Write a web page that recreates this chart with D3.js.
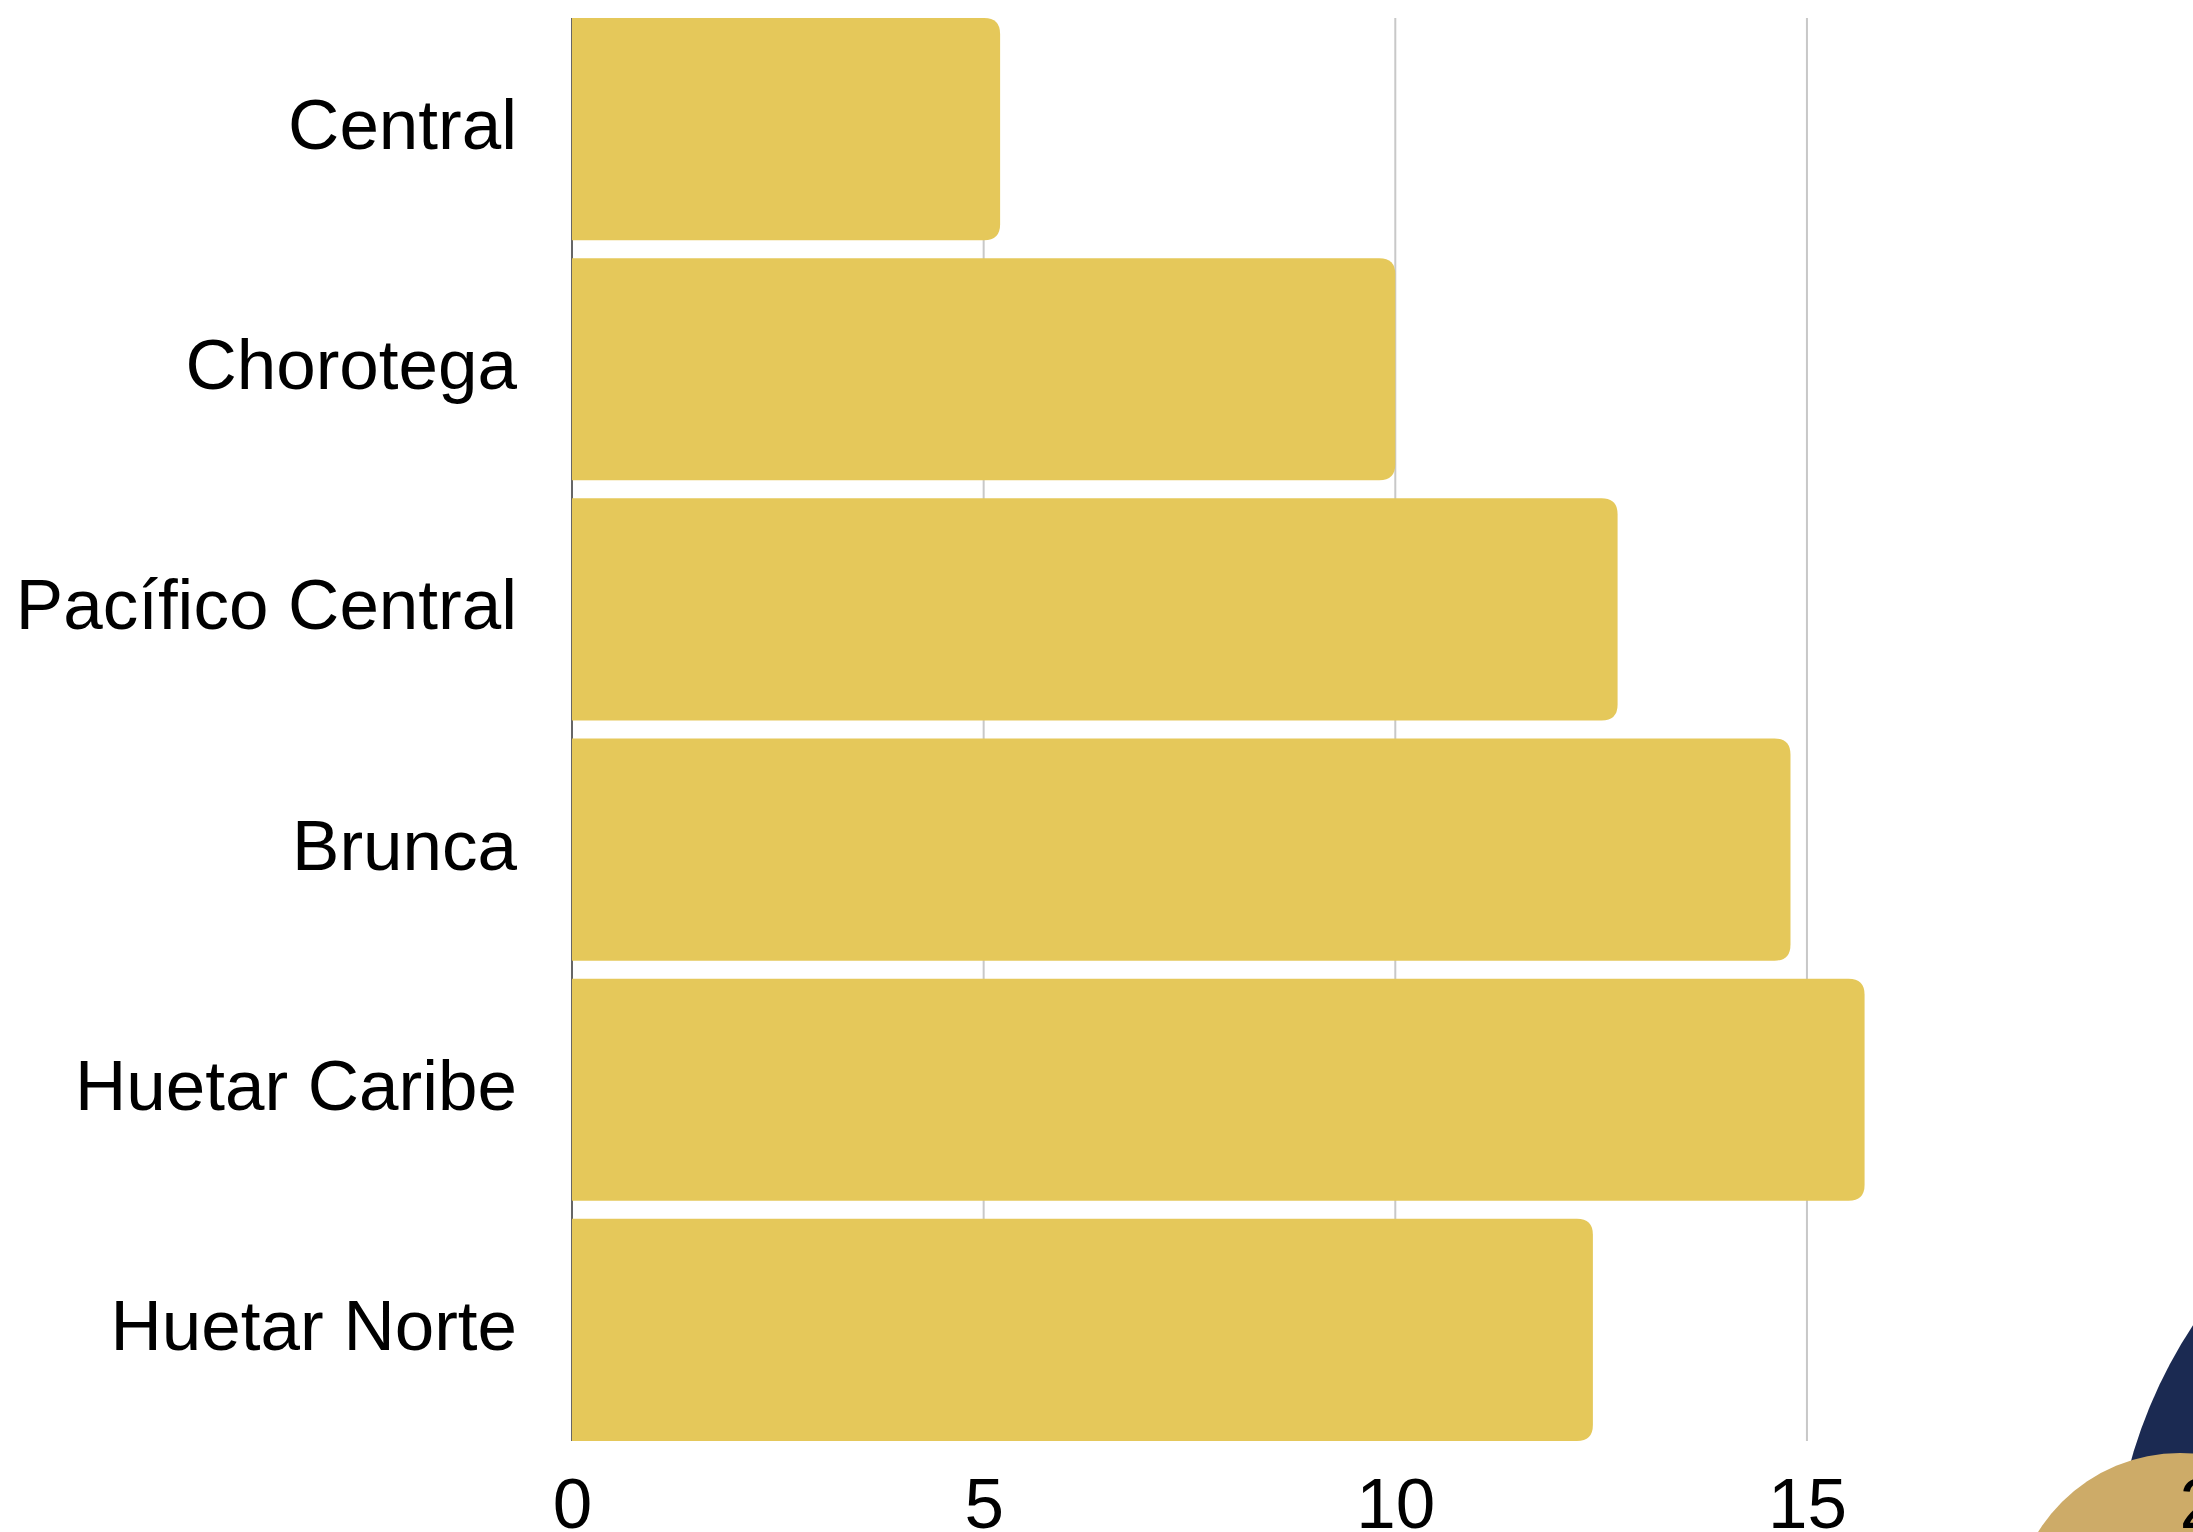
<!DOCTYPE html>
<html>
<head>
<meta charset="utf-8">
<script src="https://cdn.jsdelivr.net/npm/d3@7"></script>
<style>
  body { margin: 0; background: #fff; }
  svg { display: block; }
</style>
</head>
<body>
<div id="chart"></div>
<script>
const regions = ["Central", "Chorotega", "Pacífico Central", "Brunca", "Huetar Caribe", "Huetar Norte"];
const values = [5.2, 10.0, 12.7, 14.8, 15.7, 12.4];
const xTicks = [0, 5, 10, 15, 20];

const width = 2193;
const height = 1532;
const margin = { top: 18, bottom: 91, left: 572 };
const barColor = "#E5C85A";
const font = "'Liberation Sans', Arial, sans-serif";

const svg = d3.select("#chart")
  .append("svg")
  .attr("width", width)
  .attr("height", height);

// decorative circles in the bottom right corner
svg.append("circle")
  .attr("cx", 2594).attr("cy", 1591).attr("r", 481)
  .attr("fill", "#1B2A52");
svg.append("circle")
  .attr("cx", 2180).attr("cy", 1620).attr("r", 167)
  .attr("fill", "#CDAB68");

const x = d3.scaleLinear()
  .domain([0, 20])
  .range([margin.left, margin.left + 20 * 82.33]);

const y = d3.scaleBand()
  .domain(regions)
  .range([margin.top, height - margin.bottom])
  .paddingInner(0.075)
  .paddingOuter(0);

const y0 = margin.top, y1 = height - margin.bottom;

// grid
svg.append("g")
  .selectAll("line")
  .data(xTicks.filter(d => d > 0))
  .join("line")
    .attr("x1", d => x(d)).attr("x2", d => x(d))
    .attr("y1", y0).attr("y2", y1)
    .attr("stroke", "#c8c8c8")
    .attr("stroke-width", 2);

svg.append("line")
  .attr("x1", x(0)).attr("x2", x(0))
  .attr("y1", y0).attr("y2", y1)
  .attr("stroke", "#666")
  .attr("stroke-width", 2);

// bars, rounded on the right end only
const r = 16;
function barPath(d, i) {
  const x0 = x(0), xe = x(d), top = y(regions[i]), h = y.bandwidth();
  const rr = Math.min(r, (xe - x0) / 2);
  return `M${x0},${top}H${xe - rr}Q${xe},${top} ${xe},${top + rr}` +
         `V${top + h - rr}Q${xe},${top + h} ${xe - rr},${top + h}H${x0}Z`;
}

svg.append("g")
  .attr("fill", barColor)
  .selectAll("path")
  .data(values)
  .join("path")
    .attr("d", barPath);

// category labels
svg.append("g")
  .attr("font-family", font)
  .attr("font-size", 71)
  .attr("text-anchor", "end")
  .selectAll("text")
  .data(regions)
  .join("text")
    .attr("x", 517)
    .attr("y", d => y(d) + y.bandwidth() / 2 + 20)
    .text(d => d);

// x axis labels
const xAxis = d3.axisBottom(x).tickValues(xTicks).tickSize(0).tickPadding(0).tickFormat(d3.format("d"));
svg.append("g")
  .attr("transform", `translate(0,${y1})`)
  .call(xAxis)
  .call(g => g.select(".domain").remove())
  .call(g => g.selectAll("text")
    .attr("font-family", font)
    .attr("font-size", 71)
    .attr("fill", "#000")
    .attr("dy", null)
    .attr("y", 87));
</script>
</body>
</html>
